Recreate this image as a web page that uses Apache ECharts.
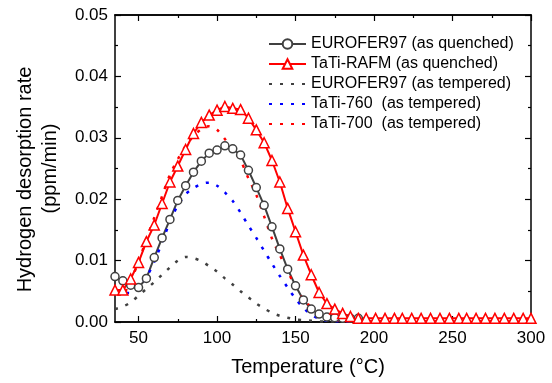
<!DOCTYPE html>
<html>
<head>
<meta charset="utf-8">
<script src="https://cdn.jsdelivr.net/npm/echarts@6/dist/echarts.min.js"></script>
<style>
  html, body { margin: 0; padding: 0; background: #fff; }
  #chart { width: 552px; height: 383px; }
</style>
</head>
<body>
<div id="chart"></div>
<script>
// Temperatures (°C) and rates (ppm/min)
const quenchedT = [35, 40, 45, 50, 55, 60, 65, 70, 75, 80, 85, 90, 95, 100, 105, 110, 115, 120,
  125, 130, 135, 140, 145, 150, 155, 160, 165, 170, 175, 180, 185, 190];
const euroQuenched = [0.0074, 0.0067, 0.0060, 0.0056, 0.0071, 0.0105, 0.0137, 0.0167, 0.0198, 0.0222,
  0.0244, 0.0262, 0.0275, 0.0280, 0.0287, 0.0282, 0.0272, 0.0247, 0.0219, 0.0190, 0.0155, 0.0119,
  0.0086, 0.0059, 0.0036, 0.0021, 0.0013, 0.0008, 0.0007, 0.0006, 0.0006, 0.0006];

const rafmT = [35, 40, 45, 50, 55, 60, 65, 70, 75, 80, 85, 90, 95, 100, 105, 110, 115, 120, 125, 130,
  135, 140, 145, 150, 155, 160, 165, 170, 175, 180, 185, 190, 195, 201, 207, 213, 218, 224, 230, 236,
  242, 248, 254, 259, 265, 271, 277, 283, 289, 295, 300];
const rafmQuenched = [0.0052, 0.0052, 0.0070, 0.0097, 0.0131, 0.0158, 0.0193, 0.0228, 0.0254, 0.0281,
  0.0307, 0.0325, 0.0337, 0.0345, 0.0351, 0.0348, 0.0346, 0.0332, 0.0313, 0.0292, 0.0263, 0.0228,
  0.0185, 0.0147, 0.0109, 0.0077, 0.0048, 0.0030, 0.0021, 0.0014, 0.0009, 0.0006, 0.0006, 0.0006,
  0.0006, 0.0006, 0.0006, 0.0006, 0.0006, 0.0006, 0.0006, 0.0006, 0.0006, 0.0006, 0.0006, 0.0006,
  0.0006, 0.0006, 0.0006, 0.0006, 0.0006];

const temperedT = [35, 40, 45, 50, 55, 60, 65, 70, 75, 80, 85, 90, 95, 100, 105, 110, 115, 120, 125,
  130, 135, 140, 145, 150, 155, 160, 165, 170, 180, 200, 250, 300];
const euroTempered = [0.0021, 0.0025, 0.0032, 0.0043, 0.0054, 0.0065, 0.0077, 0.0089, 0.0100, 0.0106,
  0.0104, 0.0099, 0.0091, 0.0082, 0.0071, 0.0061, 0.0050, 0.0040, 0.0030, 0.0022, 0.0015, 0.0010,
  0.0007, 0.0004, 0.0003, 0.0002, 0.0001, 0.0001, 0.0001, 0.0001, 0.0001, 0.0001];
const tati760 = [0.0049, 0.0048, 0.0047, 0.0057, 0.0073, 0.0098, 0.0130, 0.0163, 0.0190, 0.0208,
  0.0218, 0.0225, 0.0227, 0.0222, 0.0211, 0.0197, 0.0178, 0.0157, 0.0137, 0.0116, 0.0095, 0.0075,
  0.0056, 0.0038, 0.0023, 0.0012, 0.0005, 0.0002, 0.0001, 0.0001, 0.0001, 0.0001];
const tati700 = [0.0050, 0.0047, 0.0068, 0.0098, 0.0135, 0.0170, 0.0205, 0.0240, 0.0265, 0.0287,
  0.0303, 0.0314, 0.0319, 0.0313, 0.0298, 0.0282, 0.0263, 0.0234, 0.0207, 0.0172, 0.0136, 0.0109,
  0.0083, 0.0057, 0.0037, 0.0024, 0.0013, 0.0006, 0.0002, 0.0001, 0.0001, 0.0001];

const seriesNames = [
  'EUROFER97 (as quenched)',
  'TaTi-RAFM (as quenched)',
  'EUROFER97 (as tempered)',
  'TaTi-760  (as tempered)',
  'TaTi-700  (as tempered)'
];

const xTicks = [50, 100, 150, 200, 250, 300];
const xMinorTicks = [75, 125, 175, 225, 275];

const zip = (xs, ys) => xs.map((x, i) => [x, ys[i]]);

const FONT = '"Liberation Sans", Arial, sans-serif';
const GRAY = '#404040';

const chart = echarts.init(document.getElementById('chart'));

const xBase = {
  type: 'value', min: 35, max: 300, gridIndex: 0,
  splitLine: { show: false },
  axisLine: { show: true, onZero: false, lineStyle: { color: '#000', width: 1.5 } }
};
const yBase = {
  type: 'value', min: 0, max: 0.05, interval: 0.01,
  splitLine: { show: false },
  axisLine: { show: true, onZero: false, lineStyle: { color: '#000', width: 1.5 } },
  axisTick: { inside: true, length: 6, lineStyle: { color: '#000', width: 1.2 } },
  minorTick: { show: true, splitNumber: 2, length: 3, lineStyle: { color: '#000', width: 1.2 } }
};

// dotted entries: line only, no marker in the legend
const noMarker = { color: 'rgba(0,0,0,0)', borderColor: 'rgba(0,0,0,0)', borderWidth: 0, opacity: 0 };

const option = {
  animation: false,
  backgroundColor: '#fff',
  textStyle: { fontFamily: FONT },
  grid: { left: 115, right: 21, top: 15, bottom: 61, outerBoundsMode: 'none' },
  legend: {
    orient: 'vertical',
    left: 263, top: 31,
    itemWidth: 37, itemHeight: 12, itemGap: 4,
    textStyle: { fontSize: 16, color: '#000', fontFamily: FONT },
    data: [
      { name: seriesNames[0] },
      { name: seriesNames[1] },
      { name: seriesNames[2], itemStyle: noMarker },
      { name: seriesNames[3], itemStyle: noMarker },
      { name: seriesNames[4], itemStyle: noMarker }
    ]
  },
  xAxis: [
    Object.assign({}, xBase, {
      position: 'bottom',
      name: 'Temperature (°C)', nameLocation: 'middle', nameGap: 35,
      nameTextStyle: { fontSize: 20, color: '#000', padding: [0, 30, 0, 0] },
      axisTick: { inside: true, length: 6, customValues: xTicks, lineStyle: { color: '#000', width: 1.2 } },
      axisLabel: { customValues: xTicks, fontSize: 17, color: '#000', margin: 8 }
    }),
    Object.assign({}, xBase, {
      position: 'bottom',
      axisTick: { inside: true, length: 3, customValues: xMinorTicks, lineStyle: { color: '#000', width: 1.2 } },
      axisLabel: { show: false }
    }),
    Object.assign({}, xBase, {
      position: 'top',
      axisTick: { inside: true, length: 6, customValues: xTicks, lineStyle: { color: '#000', width: 1.2 } },
      axisLabel: { show: false }
    }),
    Object.assign({}, xBase, {
      position: 'top',
      axisTick: { inside: true, length: 3, customValues: xMinorTicks, lineStyle: { color: '#000', width: 1.2 } },
      axisLabel: { show: false }
    })
  ],
  yAxis: [
    Object.assign({}, yBase, {
      position: 'left',
      name: '{a|Hydrogen desorption rate}\n{b|(ppm/min)}',
      nameLocation: 'middle', nameGap: 52, nameRotate: 90,
      nameTextStyle: {
        color: '#000', fontSize: 20, lineHeight: 25,
        rich: {
          a: { fontSize: 20, lineHeight: 25, color: '#000', padding: [0, 22, 0, 0] },
          b: { fontSize: 20, lineHeight: 25, color: '#000' }
        }
      },
      axisLabel: { fontSize: 17, color: '#000', margin: 7, formatter: v => v.toFixed(2) }
    }),
    Object.assign({}, yBase, {
      position: 'right',
      axisLabel: { show: false }
    })
  ],
  series: [
    {
      name: seriesNames[0], type: 'line', data: zip(quenchedT, euroQuenched),
      symbol: 'circle', symbolSize: 8,
      lineStyle: { color: GRAY, width: 2 },
      itemStyle: { color: '#fff', borderColor: GRAY, borderWidth: 1.5 }
    },
    {
      name: seriesNames[1], type: 'line', data: zip(rafmT, rafmQuenched),
      symbol: 'triangle', symbolSize: 10,
      lineStyle: { color: '#ff0000', width: 2 },
      itemStyle: { color: '#fff', borderColor: '#ff0000', borderWidth: 1.5 }
    },
    {
      name: seriesNames[2], type: 'line', data: zip(temperedT, euroTempered),
      symbol: 'none', smooth: 0.3,
      lineStyle: { color: GRAY, width: 2.5, type: [3, 8] },
      itemStyle: { color: GRAY }
    },
    {
      name: seriesNames[3], type: 'line', data: zip(temperedT, tati760),
      symbol: 'none', smooth: 0.3,
      lineStyle: { color: '#0000ff', width: 2.5, type: [3, 8] },
      itemStyle: { color: '#0000ff' }
    },
    {
      name: seriesNames[4], type: 'line', data: zip(temperedT, tati700),
      symbol: 'none', smooth: 0.3,
      lineStyle: { color: '#ff0000', width: 2.5, type: [3, 8] },
      itemStyle: { color: '#ff0000' }
    }
  ]
};

chart.setOption(option);
</script>
</body>
</html>
